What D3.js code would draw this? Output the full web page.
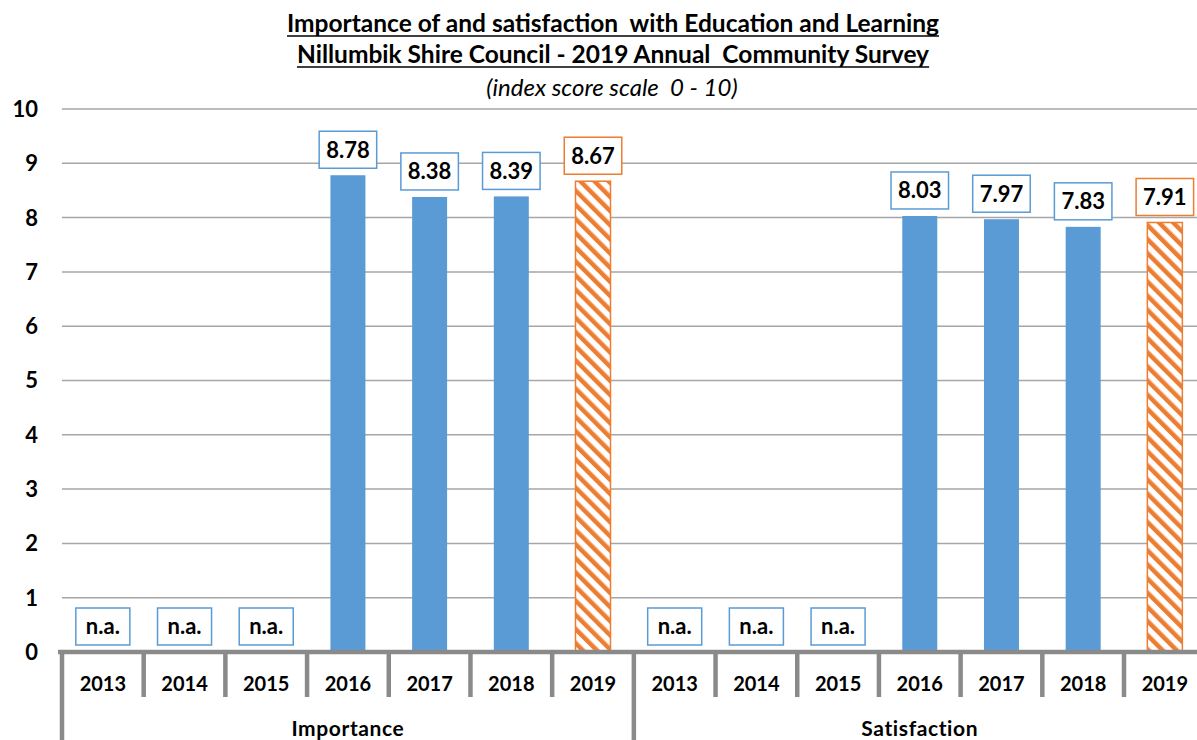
<!DOCTYPE html>
<html>
<head>
<meta charset="utf-8">
<script src="https://cdn.jsdelivr.net/npm/d3@7"></script>
<style>
  html, body { margin: 0; padding: 0; background: #fff; }
  svg { display: block; font-family: Lato, "Open Sans", sans-serif; }
  .pre { white-space: pre; }
</style>
</head>
<body>
<svg id="chart" width="1197" height="740"></svg>
<script>
// Survey years shown in each group
const years = ["2013", "2014", "2015", "2016", "2017", "2018", "2019"];
const groups = ["Importance", "Satisfaction"];
// Index scores (null = not asked that year)
const importance = [null, null, null, 8.78, 8.38, 8.39, 8.67];
const satisfaction = [null, null, null, 8.03, 7.97, 7.83, 7.91];
const yTicks = [0, 1, 2, 3, 4, 5, 6, 7, 8, 9, 10];
const titleLines = [
  "Importance of and satisfaction  with Education and Learning",
  "Nillumbik Shire Council - 2019 Annual  Community Survey"
];
const subtitle = "(index score scale  0 - 10)";

const blue = "#5b9bd5", orange = "#ed7d31", axisGrey = "#8a8a8a", gridGrey = "#a6a6a6";

// Flatten into one row per bar
const rows = [];
groups.forEach((g, gi) => {
  const vals = gi === 0 ? importance : satisfaction;
  years.forEach((yr, i) => rows.push({ group: g, year: yr, value: vals[i], current: yr === "2019", key: g + yr }));
});

const svg = d3.select("#chart");
const plotLeft = 62, plotRight = 1205.7, plotTop = 109, plotBottom = 652;

const x = d3.scaleBand().domain(rows.map(d => d.key)).range([plotLeft, plotRight]).padding(0);
const y = d3.scaleLinear().domain([0, 10]).range([plotBottom, plotTop]);
const barW = 35;

// Hatch pattern for the current year
const defs = svg.append("defs");
const pat = defs.append("pattern")
  .attr("id", "hatch").attr("patternUnits", "userSpaceOnUse")
  .attr("width", 10).attr("height", 10)
  .attr("patternTransform", "rotate(-45)");
pat.append("rect").attr("width", 10).attr("height", 10).attr("fill", "#fff");
pat.append("rect").attr("width", 4.5).attr("height", 10).attr("fill", orange);

// Titles
const titleG = svg.append("g");
titleLines.forEach((t, i) => {
  const ty = 32 + i * 31;
  const txt = titleG.append("text")
    .attr("class", "pre")
    .attr("x", 613).attr("y", ty)
    .attr("text-anchor", "middle")
    .attr("font-weight", "bold").attr("font-size", 24.5)
    .attr("fill", "#000").text(t);
  const bb = txt.node().getBBox();
  titleG.append("line")
    .attr("x1", bb.x).attr("x2", bb.x + bb.width)
    .attr("y1", ty + 4).attr("y2", ty + 4)
    .attr("stroke", "#000").attr("stroke-width", 1.6);
});
svg.append("text")
  .attr("class", "pre")
  .attr("x", 612).attr("y", 96)
  .attr("text-anchor", "middle")
  .attr("font-style", "italic").attr("font-size", 24)
  .attr("fill", "#000").text(subtitle);

// Gridlines
svg.append("g").selectAll("line").data(yTicks.filter(t => t > 0)).join("line")
  .attr("x1", plotLeft).attr("x2", 1197)
  .attr("y1", d => y(d)).attr("y2", d => y(d))
  .attr("stroke", gridGrey).attr("stroke-width", 1.5);

// Y axis labels
svg.append("g").selectAll("text").data(yTicks).join("text")
  .attr("x", 38).attr("y", d => y(d))
  .attr("dy", "0.36em")
  .attr("text-anchor", "end")
  .attr("font-weight", "bold").attr("font-size", 22)
  .text(d => d);

// Bars
svg.append("g").selectAll("rect").data(rows.filter(d => d.value != null)).join("rect")
  .attr("x", d => x(d.key) + x.bandwidth() / 2 - barW / 2)
  .attr("y", d => y(d.value))
  .attr("width", barW)
  .attr("height", d => y(0) - y(d.value))
  .attr("fill", d => d.current ? "url(#hatch)" : blue)
  .attr("stroke", d => d.current ? orange : "none")
  .attr("stroke-width", 1.5);

// Value labels in boxes
const lab = svg.append("g").selectAll("g").data(rows).join("g");
lab.each(function (d) {
  const g = d3.select(this);
  const cx = x(d.key) + x.bandwidth() / 2;
  const v = d.value == null ? 0 : d.value;
  const boxBottom = y(v) - 7;
  const h = 37;
  const t = g.append("text")
    .attr("x", cx).attr("y", boxBottom - h / 2)
    .attr("dy", "0.36em")
    .attr("text-anchor", "middle")
    .attr("font-weight", "bold").attr("font-size", 22)
    .text(d.value == null ? "n.a." : d3.format(".2f")(d.value));
  const w = t.node().getComputedTextLength() + (d.value == null ? 20 : 14);
  g.insert("rect", "text")
    .attr("x", cx - w / 2).attr("y", boxBottom - h)
    .attr("width", w).attr("height", h)
    .attr("fill", "#fff")
    .attr("stroke", d.current && d.value != null ? orange : blue)
    .attr("stroke-width", 1.5);
});

// Category axis: baseline, tick dividers, group dividers
const axisG = svg.append("g");
const bounds = rows.map(d => x(d.key)).concat([plotRight]);
bounds.forEach((bx, i) => {
  const isGroupEdge = i % years.length === 0;
  axisG.append("line")
    .attr("x1", bx).attr("x2", bx)
    .attr("y1", plotBottom).attr("y2", isGroupEdge ? 740 : 697)
    .attr("stroke", axisGrey).attr("stroke-width", 4.5);
});
axisG.append("line")
  .attr("x1", plotLeft - 4).attr("x2", 1197)
  .attr("y1", plotBottom).attr("y2", plotBottom)
  .attr("stroke", axisGrey).attr("stroke-width", 4.5);

// Year labels
svg.append("g").selectAll("text").data(rows).join("text")
  .attr("x", d => x(d.key) + x.bandwidth() / 2)
  .attr("y", 684).attr("dy", "0.36em")
  .attr("text-anchor", "middle")
  .attr("font-weight", "bold").attr("font-size", 20)
  .text(d => d.year);

// Group labels
svg.append("g").selectAll("text").data(groups).join("text")
  .attr("x", d => {
    const first = x(d + years[0]), last = x(d + years[years.length - 1]) + x.bandwidth();
    return (first + last) / 2;
  })
  .attr("y", 728).attr("dy", "0.36em")
  .attr("text-anchor", "middle")
  .attr("font-weight", "bold").attr("font-size", 21)
  .attr("letter-spacing", 0.6)
  .text(d => d);
</script>
</body>
</html>
